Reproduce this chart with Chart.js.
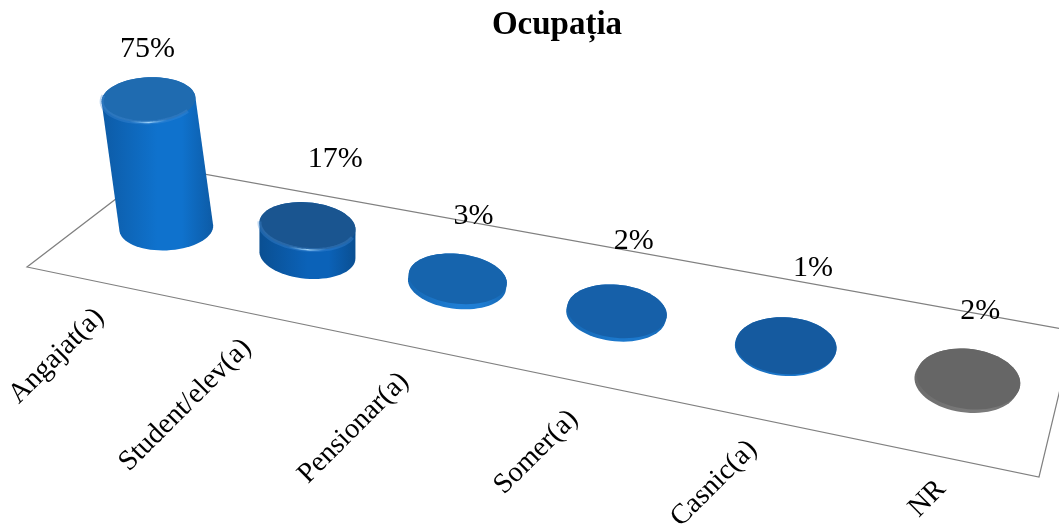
<!DOCTYPE html>
<html>
<head>
<title>Ocupatia</title>
<script src="https://cdn.jsdelivr.net/npm/chart.js@4"></script>
<style>
  html, body { margin: 0; padding: 0; background: #fff; }
  #container { width: 1059px; height: 524px; }
</style>
</head>
<body>
<div id="container"><canvas id="canvas" width="1059" height="524"></canvas></div>
<script>

// chart values
var categories = ["Angajat(a)", "Student/elev(a)", "Pensionar(a)", "Somer(a)", "Casnic(a)", "NR"];
var percents = [75, 17, 3, 2, 1, 2];

// colours of the top discs and of the sides
var topColors = ["#1f6bb0", "#1a5590", "#1664ad", "#1660a9", "#155a9f", "#666666"];
var sideEdge = ["#0d5ba6", "#0a4f92", "#1668b4", "#1668b4", "#1668b4", "#6c6c6c"];
var sideMid = ["#0f72cd", "#0b62b8", "#1f7ed4", "#1c78cc", "#1c78cc", "#7a7a7a"];

// floor corners in pixels: front left, front right, back right, back left
var floorCorners = [[27, 267], [1039, 477], [1074, 331], [159, 166]];
// depth radius of the cylinders on the floor, lean of the tall ones, disc shear
var depthRadius = 0.205;
var leanX = 305, leanK = 0.001;
var discShear = [0.3, 0.6, 0.5, 0.3, 0.05, 0];
var uShift = 0.003;

// nudges of the text relative to the cylinder top / floor edge
var valueNudge = [[-1, -50], [28, -66], [16, -62], [17, -69], [27, -77], [12, -67]];
var labelNudge = [[0, 31], [0, 31], [1, 32], [3, 35], [3, 28], [0, 28]];

// unit square -> floor, plain homography
function makeFloor(q) {
  var dx1 = q[1][0] - q[2][0], dx2 = q[3][0] - q[2][0], sx = q[0][0] - q[1][0] + q[2][0] - q[3][0];
  var dy1 = q[1][1] - q[2][1], dy2 = q[3][1] - q[2][1], sy = q[0][1] - q[1][1] + q[2][1] - q[3][1];
  var den = dx1 * dy2 - dx2 * dy1;
  var g = (sx * dy2 - dx2 * sy) / den, h = (dx1 * sy - sx * dy1) / den;
  var a = q[1][0] - q[0][0] + g * q[1][0], b = q[3][0] - q[0][0] + h * q[3][0], c = q[0][0];
  var d = q[1][1] - q[0][1] + g * q[1][1], e = q[3][1] - q[0][1] + h * q[3][1], f = q[0][1];
  return function (u, v) {
    var w = g * u + h * v + 1;
    return [(a * u + b * v + c) / w, (d * u + e * v + f) / w];
  };
}
var floor = makeFloor(floorCorners);

function ring(u, ru, lift, shear) {
  var pts = [];
  var c = floor(u, 0.5);
  var r = ru * (1.1 - 0.1 * u); // the discs widen less than the floor does
  for (var i = 0; i < 72; i++) {
    var t = i / 72 * Math.PI * 2;
    var p = floor(u + r * Math.cos(t), 0.5 + depthRadius * Math.sin(t));
    var x = p[0] + shear * (p[1] - c[1]);
    pts.push([x + (c[0] - leanX) * leanK * lift, p[1] - lift]);
  }
  return pts;
}

function hull(points) {
  var pts = points.slice().sort(function (a, b) { return a[0] - b[0] || a[1] - b[1]; });
  function side(list) {
    var out = [];
    list.forEach(function (p) {
      while (out.length > 1) {
        var m = out[out.length - 1], n = out[out.length - 2];
        if ((m[0] - n[0]) * (p[1] - n[1]) - (m[1] - n[1]) * (p[0] - n[0]) <= 0) out.pop();
        else break;
      }
      out.push(p);
    });
    out.pop();
    return out;
  }
  return side(pts).concat(side(pts.slice().reverse()));
}

function tracePath(ctx, pts) {
  ctx.beginPath();
  pts.forEach(function (p, i) { if (i) ctx.lineTo(p[0], p[1]); else ctx.moveTo(p[0], p[1]); });
  ctx.closePath();
}

function xRange(pts) {
  var xs = pts.map(function (p) { return p[0]; });
  return [Math.min.apply(null, xs), Math.max.apply(null, xs)];
}

// near half of a ring (the sine goes negative towards the viewer)
function frontArc(ctx, top) {
  ctx.beginPath();
  for (var k = 38; k < 71; k++) {
    if (k == 38) ctx.moveTo(top[k][0], top[k][1]); else ctx.lineTo(top[k][0], top[k][1]);
  }
}

function drawCylinder(ctx, bar, i, xScale) {
  var u = (bar.x - xScale.left) / xScale.width + uShift;
  var ru = bar.width / xScale.width / 2;
  var lift = bar.base - bar.y;
  var bottom = ring(u, ru, 0, discShear[i]), top = ring(u, ru, lift, discShear[i]);

  // body
  var body = hull(bottom.concat(top));
  var r = xRange(body);
  var grad = ctx.createLinearGradient(r[0], 0, r[1], 0);
  grad.addColorStop(0, sideEdge[i]);
  grad.addColorStop(0.5, sideMid[i]);
  grad.addColorStop(0.72, sideMid[i]);
  grad.addColorStop(1, sideEdge[i]);
  ctx.fillStyle = grad;
  tracePath(ctx, body);
  ctx.fill();

  // top disc
  ctx.fillStyle = bar.options.backgroundColor;
  tracePath(ctx, top);
  ctx.fill();

  // soft bevel and light rim at the front of the tall ones
  if (lift > 8) {
    ctx.strokeStyle = "rgba(70,140,215,0.35)";
    ctx.lineWidth = 4;
    frontArc(ctx, top);
    ctx.stroke();
    var tr = xRange(top);
    var rim = ctx.createLinearGradient(tr[0], 0, tr[1], 0);
    rim.addColorStop(0.3, "rgba(120,190,245,0)");
    rim.addColorStop(0.5, "rgba(170,220,255,0.9)");
    rim.addColorStop(0.7, "rgba(120,190,245,0)");
    ctx.strokeStyle = rim;
    ctx.lineWidth = 1.5;
    frontArc(ctx, top);
    ctx.stroke();
  }
}

var cylinderPlugin = {
  id: "cylinders",
  beforeDatasetsDraw: function (chart) {
    var ctx = chart.ctx;
    ctx.save();
    ctx.strokeStyle = "#808080";
    ctx.lineWidth = 1.2;
    tracePath(ctx, floorCorners);
    ctx.stroke();
    ctx.restore();
  },
  beforeDatasetDraw: function (chart, args) {
    var ctx = chart.ctx, xScale = chart.scales.x;
    ctx.save();
    args.meta.data.forEach(function (bar, i) { drawCylinder(ctx, bar, i, xScale); });
    ctx.restore();
    return false; // the cylinders replace the flat bars
  },
  afterDatasetsDraw: function (chart) {
    var ctx = chart.ctx, xScale = chart.scales.x;
    var meta = chart.getDatasetMeta(0);
    ctx.save();
    ctx.fillStyle = "#000";
    meta.data.forEach(function (bar, i) {
      var u = (bar.x - xScale.left) / xScale.width + uShift;
      var lift = bar.base - bar.y;
      var c = floor(u, 0.5);

      // value
      ctx.font = "30px 'Liberation Serif'";
      ctx.textAlign = "center";
      ctx.textBaseline = "middle";
      ctx.fillText(percents[i] + "%",
        c[0] + (c[0] - leanX) * leanK * lift + valueNudge[i][0],
        c[1] - lift + valueNudge[i][1]);

      // category, rotated below the front edge
      var e = floor(u, 0);
      ctx.save();
      ctx.translate(e[0] + labelNudge[i][0], e[1] + labelNudge[i][1]);
      ctx.rotate(-Math.PI / 4);
      ctx.font = "28.5px 'Liberation Serif'";
      ctx.textAlign = "right";
      ctx.textBaseline = "middle";
      ctx.fillText(xScale.getLabelForValue(i), 0, 0);
      ctx.restore();
    });
    ctx.restore();
  }
};

var ctx = document.getElementById("canvas").getContext("2d");
new Chart(ctx, {
  type: "bar",
  data: {
    labels: categories,
    datasets: [{
      label: "Ocupația",
      data: percents,
      backgroundColor: topColors,
      categoryPercentage: 1,
      barPercentage: 0.54
    }]
  },
  plugins: [cylinderPlugin],
  options: {
    responsive: false,
    animation: false,
    layout: { padding: { left: 75, right: 20, top: 6, bottom: 299 } },
    scales: {
      x: { display: false },
      y: { display: false, min: 0, max: 75 }
    },
    plugins: {
      legend: { display: false },
      tooltip: { enabled: false },
      title: {
        display: true,
        text: "Ocupația",
        color: "#000",
        font: { family: "'Liberation Serif'", size: 33, weight: "bold" },
        padding: { top: 0, bottom: 51.4 }
      }
    }
  }
});

</script>
</body>
</html>
